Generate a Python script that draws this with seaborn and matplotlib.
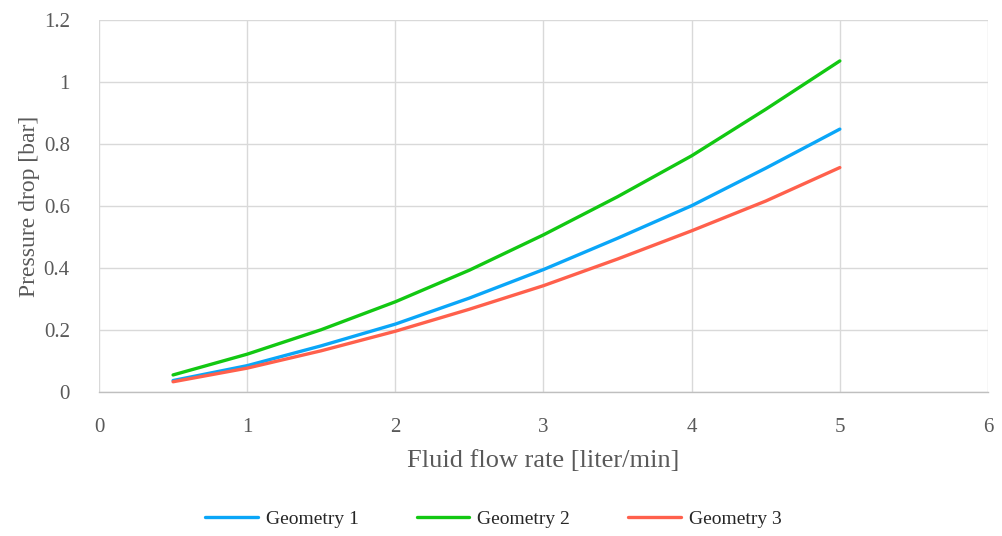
import matplotlib
matplotlib.use("Agg")
import matplotlib.pyplot as plt
import seaborn as sns
import pandas as pd

flow = [0.5, 1.0, 1.5, 2.0, 2.5, 3.0, 3.5, 4.0, 4.5, 5.0]
geom1 = [0.037, 0.085, 0.149, 0.219, 0.303, 0.395, 0.496, 0.601, 0.722, 0.848]
geom2 = [0.055, 0.122, 0.201, 0.291, 0.393, 0.507, 0.630, 0.762, 0.912, 1.068]
geom3 = [0.033, 0.077, 0.133, 0.196, 0.267, 0.343, 0.429, 0.520, 0.616, 0.724]
series_names = ["Geometry 1", "Geometry 2", "Geometry 3"]
xticks = [0, 1, 2, 3, 4, 5, 6]
yticks = [0, 0.2, 0.4, 0.6, 0.8, 1.0, 1.2]
ytick_labels = ["0", "0.2", "0.4", "0.6", "0.8", "1", "1.2"]

rows = []
for name, vals in zip(series_names, [geom1, geom2, geom3]):
    for x, y in zip(flow, vals):
        rows.append({"flow": x, "dp": y, "series": name})
df = pd.DataFrame(rows)

sns.set_theme(style="white")
plt.rcParams['font.family'] = ['Liberation Serif', 'DejaVu Serif']
gray = "#595959"

fig = plt.figure(figsize=(10.03, 5.36), dpi=100)
ax = fig.add_axes([99/1003, 1 - 392/536, (988-99)/1003, (392-20)/536])

palette = {"Geometry 1": "#0aa6f8", "Geometry 2": "#12c812", "Geometry 3": "#ff604c"}
sns.lineplot(data=df, x="flow", y="dp", hue="series", palette=palette,
             linewidth=2.4, ax=ax, legend=True)
for ln in ax.get_lines():
    ln.set_solid_joinstyle("round")
    ln.set_solid_capstyle("round")

ax.set_xlim(0, 6)
ax.set_ylim(0, 1.2)
ax.set_xticks(xticks)
ax.set_xticklabels([str(t) for t in xticks])
ax.set_yticks(yticks)
ax.set_yticklabels(ytick_labels)
ax.tick_params(axis="both", length=0, labelsize=15, colors=gray)
ax.tick_params(axis="x", pad=19)
ax.tick_params(axis="y", pad=21)
ax.grid(True, color="#d9d9d9", linewidth=1.0)
ax.set_axisbelow(True)
for s in ["top", "right", "left"]:
    ax.spines[s].set_visible(False)
ax.spines["bottom"].set_color("#bfbfbf")
ax.spines["bottom"].set_linewidth(1.0)

ax.set_xlabel("Fluid flow rate [liter/min]", fontsize=19, color=gray, labelpad=9)
ax.set_ylabel("Pressure drop [bar]", fontsize=17, color=gray, labelpad=3)

handles, labels = ax.get_legend_handles_labels()
ax.legend(handles, labels, loc="center", bbox_to_anchor=(0.5 - 8/1003, (536 - 519) / 536),
          bbox_transform=fig.transFigure, ncol=3, frameon=False, fontsize=14,
          handlelength=2.7, columnspacing=3.0, handletextpad=0.4)

fig.savefig("out.png", dpi=100)
